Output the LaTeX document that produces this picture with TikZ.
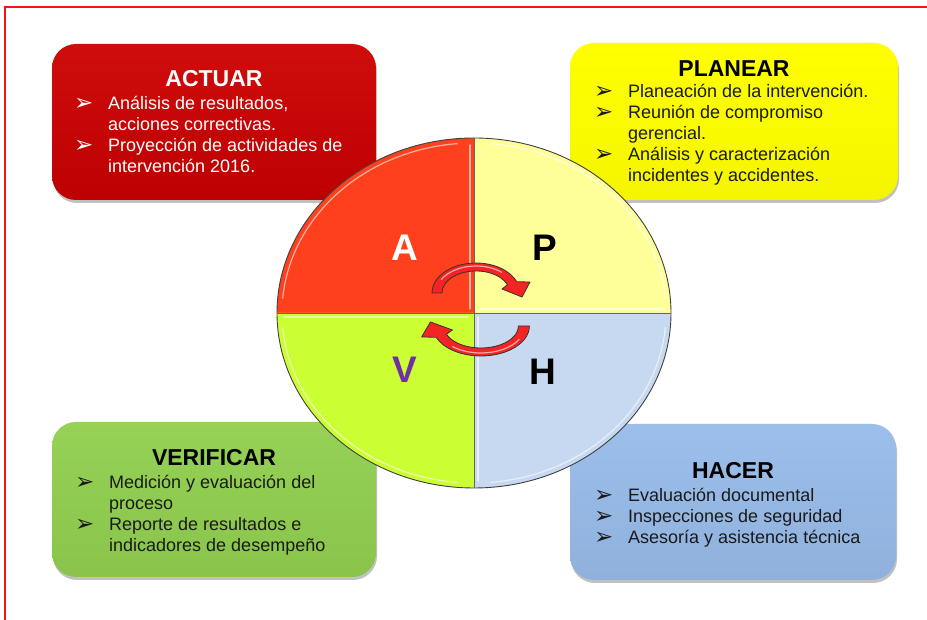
\documentclass[tikz,border=0pt]{standalone}
\usepackage{fontspec}
\setmainfont{Liberation Sans}
\newfontfamily\dingfont{DejaVu Sans}
\usepackage{tikz}
\usetikzlibrary{calc,shadows,positioning}

\definecolor{pagered}{HTML}{FF1010}
\definecolor{actuarred}{HTML}{CC0000}
\definecolor{planyellow}{HTML}{FFFF00}
\definecolor{verigreen}{HTML}{92D050}
\definecolor{hacerblue}{HTML}{98BCEA}
\definecolor{quadA}{HTML}{FF401C}
\definecolor{quadP}{HTML}{FFFF99}
\definecolor{quadV}{HTML}{CCFF33}
\definecolor{quadH}{HTML}{C6D9F0}
\definecolor{letterV}{HTML}{7030A0}
\definecolor{arrowred}{HTML}{F42424}
\definecolor{listgray}{HTML}{1A1A1A}

\newcommand{\bul}{{\dingfont\fontsize{23}{21}\selectfont\raisebox{-1pt}{➢}}}
\newcommand{\cyclepath}{(-44,0) arc[start angle=180, end angle=22, x radius=44pt, y radius=30pt]
  -- (54,11) -- (46,-4) -- (26,4) -- (22:34pt and 22pt)
  arc[start angle=22, end angle=180, x radius=34pt, y radius=22pt] -- cycle}

\tikzset{
  phasebox/.style={rectangle, rounded corners=24pt, inner sep=0pt,
    drop shadow={shadow xshift=1pt, shadow yshift=-3pt, opacity=.35, fill=black!70}},
  phasetitle/.style={font=\fontsize{23}{26}\selectfont\bfseries, anchor=base, inner sep=0pt},
  phaselist/.style={font=\fontsize{18}{21}\selectfont, anchor=base west, inner sep=0pt, align=left},
  quadletter/.style={font=\fontsize{37}{40}\selectfont\bfseries, inner sep=0pt},
  cyclearrow/.style={draw=black!80, line width=.8pt, fill=arrowred, line join=round},
  gloss/.style={white, opacity=.6, line width=1.2pt, line cap=round},
}

\begin{document}
\begin{tikzpicture}[x=1pt, y=1pt]
\useasboundingbox (0,0) rectangle (927,620);
\draw[pagered, line width=2pt] (5,0) -- (5,613) -- (927,613);

% four phase boxes
\node[phasebox, top color=actuarred!95!white, bottom color=actuarred!93!black,
  minimum width=324pt, minimum height=156pt] (actuar) at (214,498) {};
\node[phasebox, top color=planyellow, bottom color=planyellow!96!black,
  minimum width=328pt, minimum height=157pt] (planear) at (734,498.5) {};
\node[phasebox, top color=verigreen!96!white, bottom color=verigreen!94!black,
  minimum width=324pt, minimum height=155pt] (verificar) at (214,120.5) {};
\node[phasebox, top color=hacerblue!96!white, bottom color=hacerblue!94!black,
  minimum width=326pt, minimum height=156pt] (hacer) at (733,118) {};

\node[phasetitle, text=white] (actuar-title) at (214,533) {ACTUAR};
\node[phaselist, text=white] (actuar-list) at (74,510) {%
  \begin{tabular}[t]{@{}p{34pt}@{}l@{}}
  \bul & Análisis de resultados,\\
       & acciones correctivas.\\
  \bul & Proyección de actividades de\\
       & intervención 2016.
  \end{tabular}};

\node[phasetitle, text=black] (planear-title) at (734,543) {PLANEAR};
\node[phaselist, text=listgray] (planear-list) at (594,522) {%
  \begin{tabular}[t]{@{}p{34pt}@{}l@{}}
  \bul & Planeación de la intervención.\\
  \bul & Reunión de compromiso\\
       & gerencial.\\
  \bul & Análisis y caracterización\\
       & incidentes y accidentes.
  \end{tabular}};

\node[phasetitle, text=black] (verificar-title) at (214,154) {VERIFICAR};
\node[phaselist, text=listgray] (verificar-list) at (75,131) {%
  \begin{tabular}[t]{@{}p{34pt}@{}l@{}}
  \bul & Medición y evaluación del\\
       & proceso\\
  \bul & Reporte de resultados e\\
       & indicadores de desempeño
  \end{tabular}};

\node[phasetitle, text=black] (hacer-title) at (733,141) {HACER};
\node[phaselist, text=listgray] (hacer-list) at (594,118) {%
  \begin{tabular}[t]{@{}p{34pt}@{}l@{}}
  \bul & Evaluación documental\\
  \bul & Inspecciones de seguridad\\
  \bul & Asesoría y asistencia técnica
  \end{tabular}};

% PDCA wheel
\coordinate (hub) at (474,307);
\foreach \ang/\col in {0/quadP, 90/quadA, 180/quadV, 270/quadH}
  \fill[\col] (hub) -- ++(\ang:197pt and 175pt)
    arc[start angle=\ang, delta angle=90, x radius=197pt, y radius=175pt] -- cycle;
\draw[gloss] (hub) ++(95:192pt and 170pt) arc[start angle=95, end angle=175, x radius=192pt, y radius=170pt];
\draw[gloss] (hub) ++(5:192pt and 170pt) arc[start angle=5, end angle=85, x radius=192pt, y radius=170pt];
\draw[gloss] (hub) ++(185:192pt and 170pt) arc[start angle=185, end angle=265, x radius=192pt, y radius=170pt];
\draw[gloss] (hub) ++(275:192pt and 170pt) arc[start angle=275, end angle=355, x radius=192pt, y radius=170pt];
\draw[gloss] ($(hub)+(-4,168)$) -- ($(hub)+(-4,4)$);
\draw[gloss] ($(hub)+(4,-4)$) -- ($(hub)+(4,-168)$);
\draw[gloss] ($(hub)+(-190,-4)$) -- ($(hub)+(-6,-4)$);
\draw[gloss] ($(hub)+(6,4)$) -- ($(hub)+(190,4)$);
\draw[black!75, line width=.9pt] (hub) ellipse [x radius=197pt, y radius=175pt];
\draw[black!60, line width=.8pt] ($(hub)+(0,175)$) -- ($(hub)+(0,-175)$);
\draw[black!60, line width=.8pt] ($(hub)+(-197,0)$) -- ($(hub)+(197,0)$);

\foreach \ltr/\px/\py/\col in {A/405/372/white, P/545/372/black, V/405/250/letterV, H/543/248/black}
  \node[quadletter, text=\col] (letter-\ltr) at (\px,\py) {\ltr};

% cycle arrows
\begin{scope}[shift={(476,327)}]
  \draw[cyclearrow] \cyclepath;
  \draw[gloss] (150:40pt and 27pt) arc[start angle=150, end angle=50, x radius=40pt, y radius=27pt];
\end{scope}
\begin{scope}[shift={(481,294)}, rotate=180, xscale=1.1]
  \draw[cyclearrow] \cyclepath;
  \draw[gloss] (150:40pt and 27pt) arc[start angle=150, end angle=50, x radius=40pt, y radius=27pt];
\end{scope}
\end{tikzpicture}
\end{document}
